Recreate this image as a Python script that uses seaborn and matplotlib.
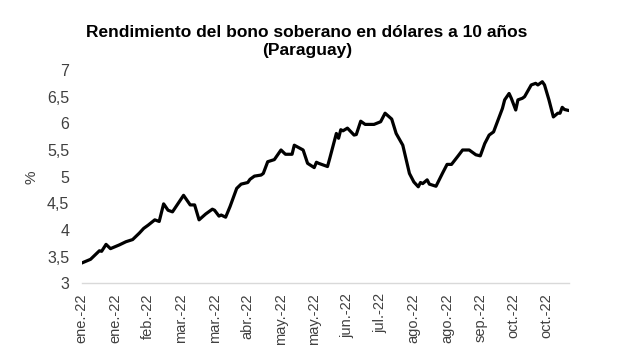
import matplotlib
matplotlib.use("Agg")
import matplotlib.pyplot as plt
import matplotlib.ticker as mticker
import seaborn as sns
import pandas as pd

obs = [0, 4, 6, 8, 9, 11, 13, 17, 20, 23, 26, 28, 30, 33, 35, 37, 39, 41,
       46, 49, 51, 53, 56, 59, 60, 62, 63, 65, 67, 70, 72, 75, 76, 78, 81,
       82, 84, 87, 90, 92, 95, 96, 100, 102, 105, 106, 107, 111, 112, 115,
       116, 117, 118, 120, 123, 124, 126, 128, 132, 135, 137, 140, 142, 145,
       148, 150, 152, 153, 154, 156, 157, 160, 163, 165, 167, 170, 172, 175,
       178, 180, 182, 184, 186, 188, 190, 191, 193, 194, 196, 197, 199, 200,
       203, 205, 206, 208, 209, 211, 213, 215, 216, 217, 218, 220]
yields = [3.38, 3.45, 3.53, 3.61, 3.60, 3.73, 3.65, 3.72, 3.78, 3.82, 3.94,
          4.03, 4.09, 4.19, 4.16, 4.49, 4.37, 4.34, 4.65, 4.47, 4.47, 4.19,
          4.30, 4.39, 4.37, 4.26, 4.28, 4.24, 4.44, 4.78, 4.86, 4.89, 4.95,
          5.01, 5.03, 5.06, 5.28, 5.32, 5.50, 5.42, 5.42, 5.59, 5.50, 5.25,
          5.17, 5.27, 5.25, 5.19, 5.34, 5.81, 5.72, 5.88, 5.86, 5.91, 5.78,
          5.79, 6.04, 5.98, 5.98, 6.03, 6.19, 6.08, 5.81, 5.59, 5.06, 4.90,
          4.81, 4.89, 4.87, 4.94, 4.86, 4.82, 5.07, 5.23, 5.23, 5.39, 5.50,
          5.50, 5.41, 5.39, 5.62, 5.78, 5.84, 6.06, 6.28, 6.44, 6.56, 6.47,
          6.25, 6.44, 6.47, 6.50, 6.72, 6.75, 6.72, 6.78, 6.72, 6.44, 6.12,
          6.19, 6.19, 6.30, 6.26, 6.24]

tick_pos = [0, 15, 30, 45, 60, 75, 90, 105, 120, 135, 150, 165, 180, 195, 210]
tick_labels = ["ene.-22", "ene.-22", "feb.-22", "mar.-22", "mar.-22", "abr.-22",
               "may.-22", "may.-22", "jun.-22", "jul.-22", "ago.-22", "ago.-22",
               "sep.-22", "oct.-22", "oct.-22"]
y_ticks = [3, 3.5, 4, 4.5, 5, 5.5, 6, 6.5, 7]

df = pd.DataFrame({"obs": obs, "yield": yields})

sns.set_theme(style="white")
plt.rcParams["font.family"] = ["Liberation Sans", "DejaVu Sans"]

fig = plt.figure(figsize=(6.17, 3.62), dpi=100)
ax = fig.add_axes([0.1324, 0.2174, 0.922 - 0.1324, 0.8066 - 0.2174])

sns.lineplot(data=df, x="obs", y="yield", ax=ax, color="black", linewidth=2.3)

ax.set_xlim(0, 220)
ax.set_ylim(3, 7)
ax.set_xticks(tick_pos)
ax.set_xticklabels(tick_labels, rotation=90, fontsize=10.5, color="#404040")
ax.set_yticks(y_ticks)
ax.yaxis.set_major_formatter(mticker.FuncFormatter(
    lambda v, p: (f"{v:g}").replace(".", ",")))
ax.tick_params(axis="y", length=0, pad=9, labelsize=11.5, labelcolor="#404040")
ax.tick_params(axis="x", length=4, width=0.8, color="#d9d9d9", pad=3)

for side in ["left", "right", "top"]:
    ax.spines[side].set_visible(False)
ax.spines["bottom"].set_color("#d9d9d9")
ax.spines["bottom"].set_linewidth(1.0)

ax.set_xlabel("")
ax.set_ylabel("")
fig.text(32 / 617, 1 - 177 / 362, "%", rotation=90, ha="center", va="center",
         fontsize=11, color="#404040")

fig.text(307 / 617, 1 - 41.5 / 362,
         "Rendimiento del bono soberano en dólares a 10 años\n(Paraguay)",
         ha="center", va="center", fontsize=12.5, fontweight="bold",
         color="black", linespacing=1.2)

fig.savefig("out.png", dpi=100)
